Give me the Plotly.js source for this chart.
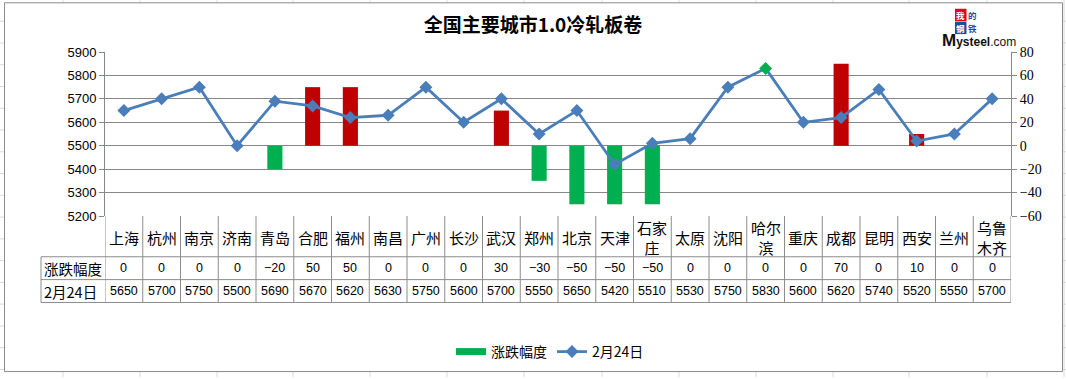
<!DOCTYPE html>
<html>
<head>
<meta charset="utf-8">
<script src="https://cdn.plot.ly/plotly-3.0.1.min.js"></script>
<style>
  html, body { margin: 0; padding: 0; background: #ffffff; }
  #chart { width: 1066px; height: 379px; }
</style>
</head>
<body>
<div id="chart"></div>
<script>
// ---- data ----
const cities = ['上海','杭州','南京','济南','青岛','合肥','福州','南昌','广州','长沙','武汉','郑州','北京','天津','石家庄','太原','沈阳','哈尔滨','重庆','成都','昆明','西安','兰州','乌鲁木齐'];
const changeValues = [0,0,0,0,-20,50,50,0,0,0,30,-30,-50,-50,-50,0,0,0,0,70,0,10,0,0];
const priceValues = [5650,5700,5750,5500,5690,5670,5620,5630,5750,5600,5700,5550,5650,5420,5510,5530,5750,5830,5600,5620,5740,5520,5550,5700];
const changeName = '涨跌幅度';
const priceName = '2月24日';
const chartTitle = '全国主要城市1.0冷轧板卷';

// ---- styling ----
const W = 1066, H = 379;
const ML = 105, MR = 55, MT = 52, MB = 162;
const PW = W - ML - MR, PH = H - MT - MB;
const px2x = p => (p - ML) / PW;
const px2y = p => (H - MB - p) / PH;

const RED = '#C00000', GREEN = '#00B050', BLUE = '#4A7EBB';
const GRID = '#878787', TABLE = '#8c8c8c', SHEET = '#d9d9d9';
const CJK = '"Noto Sans CJK SC", "Noto Sans", sans-serif';
const NUM = '"Liberation Sans", Arial, sans-serif';

const maxPrice = Math.max(...priceValues);
const barColors = changeValues.map(v => v >= 0 ? RED : GREEN);
const markerColors = priceValues.map(v => v === maxPrice ? GREEN : BLUE);
const labelOf = c => c.length > 2 ? c.slice(0, 2) + '<br>' + c.slice(2) : c;

const traces = [
  {
    type: 'bar', x: cities, y: changeValues, name: changeName,
    marker: { color: barColors }, width: 0.4, yaxis: 'y',
    showlegend: false, hoverinfo: 'x+y'
  },
  { // legend entry for bars
    type: 'scatter', mode: 'lines', x: [null], y: [null], name: changeName,
    line: { color: GREEN, width: 7 }, yaxis: 'y', showlegend: true
  },
  {
    type: 'scatter', mode: 'lines+markers', x: cities, y: priceValues, name: priceName,
    yaxis: 'y2',
    line: { color: BLUE, width: 2.8 },
    marker: { symbol: 'diamond', size: 10, color: markerColors, line: { width: 0 } }
  }
];

// ---- shapes: spreadsheet background, chart frame, data table ----
const shapes = [];
const sheetCols = [63,140,217,293,370,447,524,602,679,756,833,909,987,1064];
for (const c of sheetCols) {
  shapes.push({ type: 'line', xref: 'paper', yref: 'paper', x0: px2x(c), x1: px2x(c), y0: px2y(0), y1: px2y(H), line: { color: SHEET, width: 1 }, layer: 'below' });
}
for (let r = 21; r < H; r += 21.9) {
  shapes.push({ type: 'line', xref: 'paper', yref: 'paper', x0: px2x(0), x1: px2x(W), y0: px2y(r), y1: px2y(r), line: { color: SHEET, width: 1 }, layer: 'below' });
}
shapes.push({ type: 'rect', xref: 'paper', yref: 'paper', x0: px2x(4.5), x1: px2x(1062.5), y0: px2y(2.5), y1: px2y(373.5), fillcolor: '#ffffff', line: { color: '#8a8a8a', width: 1 }, layer: 'below' });

const rowTop = 217, row1 = 258, row2 = 281, row3 = 304, labelLeft = 41;
for (let i = 0; i <= cities.length; i++) {
  shapes.push({ type: 'line', xref: 'x', yref: 'paper', x0: i - 0.5, x1: i - 0.5, y0: px2y(rowTop), y1: px2y(row3), line: { color: TABLE, width: 1 } });
}
for (const r of [row1, row2, row3]) {
  shapes.push({ type: 'line', xref: 'paper', yref: 'paper', x0: px2x(labelLeft), x1: 1, y0: px2y(r), y1: px2y(r), line: { color: TABLE, width: 1 } });
}
shapes.push({ type: 'line', xref: 'paper', yref: 'paper', x0: px2x(labelLeft), x1: px2x(labelLeft), y0: px2y(row1), y1: px2y(row3), line: { color: TABLE, width: 1 } });

// logo tiles as shapes
const logo = [
  { t: '我', x0: 955, y0: 8.5, bg: '#E60012', fg: '#ffffff' },
  { t: '的', x0: 967, y0: 8.5, bg: '#ffffff', fg: '#1d4f9c' },
  { t: '钢', x0: 955, y0: 21.5, bg: '#1d4f9c', fg: '#ffffff' },
  { t: '铁', x0: 967, y0: 21.5, bg: '#ffffff', fg: '#1d4f9c' }
];
for (const l of logo) {
  shapes.push({ type: 'rect', xref: 'paper', yref: 'paper', x0: px2x(l.x0), x1: px2x(l.x0 + 11.5), y0: px2y(l.y0), y1: px2y(l.y0 + 12.5), fillcolor: l.bg, line: { width: 0 } });
}

// ---- annotations: table text + logo ----
const annotations = [];
cities.forEach((c, i) => {
  annotations.push({ x: c, xref: 'x', y: px2y((rowTop + row1) / 2 + 1), yref: 'paper', text: labelOf(c), showarrow: false, xanchor: 'center', yanchor: 'middle', font: { family: CJK, size: 15, color: '#000' } });
  const cv = changeValues[i];
  annotations.push({ x: c, xref: 'x', y: px2y((row1 + row2) / 2), yref: 'paper', text: cv < 0 ? '\u2212' + Math.abs(cv) : String(cv), showarrow: false, xanchor: 'center', yanchor: 'middle', font: { family: NUM, size: 12.5, color: '#000' } });
  annotations.push({ x: c, xref: 'x', y: px2y((row2 + row3) / 2), yref: 'paper', text: String(priceValues[i]), showarrow: false, xanchor: 'center', yanchor: 'middle', font: { family: NUM, size: 12.5, color: '#000' } });
});
annotations.push({ x: px2x(42), xref: 'paper', y: px2y((row1 + row2) / 2), yref: 'paper', text: changeName, showarrow: false, xanchor: 'left', yanchor: 'middle', font: { family: CJK, size: 14.5, color: '#000' } });
annotations.push({ x: px2x(42), xref: 'paper', y: px2y((row2 + row3) / 2), yref: 'paper', text: priceName, showarrow: false, xanchor: 'left', yanchor: 'middle', font: { family: CJK, size: 14.5, color: '#000' } });

for (const l of logo) {
  annotations.push({ x: px2x(l.x0 + 5.75), xref: 'paper', y: px2y(l.y0 + 6.25), yref: 'paper', text: '<b>' + l.t + '</b>', showarrow: false, xanchor: 'center', yanchor: 'middle', borderpad: 0, font: { family: CJK, size: 8.5, color: l.fg } });
}
annotations.push({ x: px2x(979), xref: 'paper', y: px2y(40), yref: 'paper', text: '<b><span style="font-size:17px">M</span>ysteel</b>.com', showarrow: false, xanchor: 'center', yanchor: 'middle', font: { family: NUM, size: 12, color: '#111' } });

const layout = {
  width: W, height: H,
  margin: { l: ML, r: MR, t: MT, b: MB, pad: 0 },
  paper_bgcolor: '#ffffff', plot_bgcolor: 'rgba(0,0,0,0)',
  title: { text: '<b>' + chartTitle + '</b>', xref: 'container', yref: 'container', x: 533 / W, y: 1 - 25 / H, xanchor: 'center', yanchor: 'middle', font: { family: CJK, size: 19, color: '#000' } },
  xaxis: { type: 'category', range: [-0.5, cities.length - 0.5], showticklabels: false, ticks: '', showgrid: false, zeroline: false, showline: false, fixedrange: true },
  yaxis: { side: 'right', range: [-60, 80], dtick: 20, tick0: -60, showgrid: true, gridcolor: GRID, gridwidth: 1, zeroline: false, showline: true, linecolor: GRID, ticks: 'outside', ticklen: 5, tickcolor: GRID, tickfont: { family: '"Liberation Serif", serif', size: 14, color: '#000' }, fixedrange: true },
  yaxis2: { overlaying: 'y', side: 'left', range: [5200, 5900], dtick: 100, tick0: 5200, showgrid: false, zeroline: false, showline: true, linecolor: GRID, ticks: 'outside', ticklen: 5, tickcolor: GRID, tickfont: { family: NUM, size: 13, color: '#000' }, fixedrange: true },
  showlegend: true,
  legend: { orientation: 'h', x: px2x(550), xanchor: 'center', y: px2y(352), yanchor: 'middle', font: { family: CJK, size: 14, color: '#000' }, bgcolor: 'rgba(0,0,0,0)', itemwidth: 30, traceorder: 'normal' },
  shapes: shapes,
  annotations: annotations,
  bargap: 0.6
};

Plotly.newPlot('chart', traces, layout, { displayModeBar: false, staticPlot: true });
</script>
</body>
</html>
